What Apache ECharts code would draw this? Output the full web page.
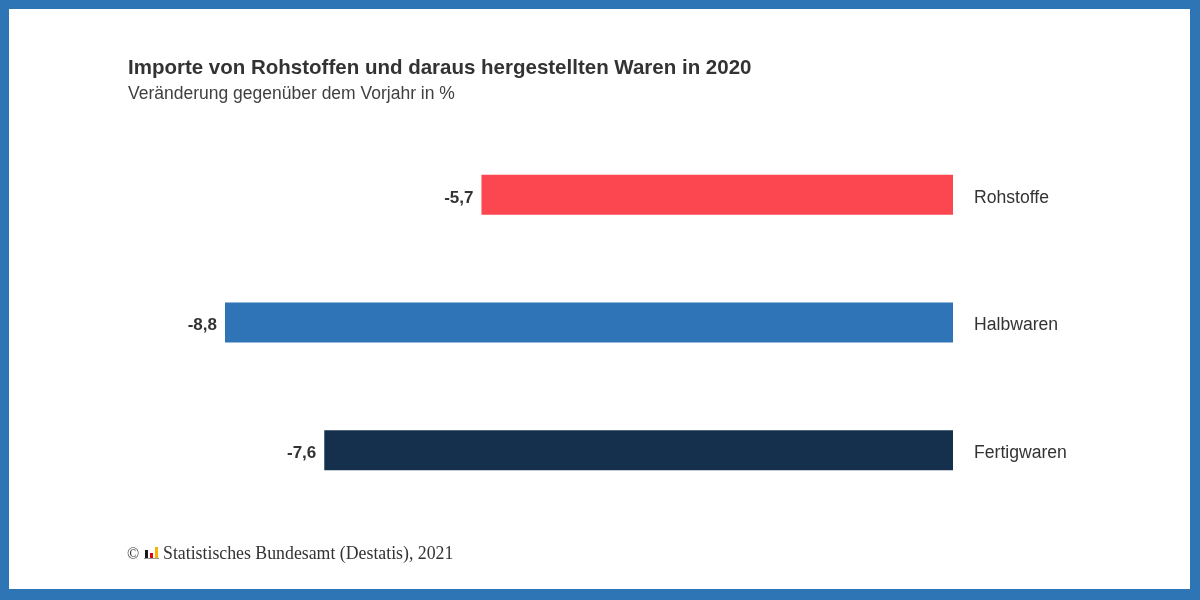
<!DOCTYPE html>
<html>
<head>
<meta charset="utf-8">
<script src="https://cdn.jsdelivr.net/npm/echarts@6/dist/echarts.min.js"></script>
<style>
  html, body { margin: 0; padding: 0; background: #2e75b6; }
  #chart { width: 1200px; height: 600px; }
</style>
</head>
<body>
<div id="chart"></div>
<script>
  const categories = ['Rohstoffe', 'Halbwaren', 'Fertigwaren'];
  const values = [-5.7, -8.8, -7.6];
  const barColors = ['#fc4751', '#2f74b7', '#15304d'];

  const myChart = echarts.init(document.getElementById('chart'));

  const option = {
    backgroundColor: '#2e75b6',
    animation: false,
    graphic: [
      // weisse Flaeche innerhalb des blauen Rahmens
      { type: 'rect', z: -10, shape: { x: 9, y: 9, width: 1181, height: 580 }, style: { fill: '#ffffff' } },
      // Destatis-Logo
      { type: 'text', left: 127, top: 547, style: { text: '©', font: '16px "Liberation Serif"', fill: '#333' } },
      { type: 'rect', shape: { x: 145, y: 550, width: 3, height: 8 }, style: { fill: '#1a1a1a' } },
      { type: 'rect', shape: { x: 150, y: 553, width: 3, height: 5 }, style: { fill: '#e2001a' } },
      { type: 'rect', shape: { x: 155, y: 547, width: 3, height: 11 }, style: { fill: '#f5b400' } },
      { type: 'rect', shape: { x: 144, y: 558, width: 15, height: 1 }, style: { fill: '#999' } },
      { type: 'text', left: 163, top: 545, style: { text: 'Statistisches Bundesamt (Destatis), 2021', font: '17.8px "Liberation Serif"', fill: '#333' } }
    ],
    title: {
      text: 'Importe von Rohstoffen und daraus hergestellten Waren in 2020',
      subtext: 'Veränderung gegenüber dem Vorjahr in %',
      left: 128,
      top: 58,
      padding: 0,
      itemGap: 6,
      textStyle: { fontFamily: 'Liberation Sans', fontSize: 20.5, fontWeight: 'bold', color: '#333' },
      subtextStyle: { fontFamily: 'Liberation Sans', fontSize: 17.5, color: '#404040' }
    },
    grid: { left: 225, right: 247, top: 131, bottom: 86, containLabel: false },
    xAxis: {
      type: 'value',
      min: -8.8,
      max: 0,
      show: false
    },
    yAxis: {
      type: 'category',
      data: categories,
      inverse: true,
      position: 'right',
      axisLine: { show: false },
      axisTick: { show: false },
      axisLabel: {
        margin: 21,
        verticalAlign: 'top',
        lineHeight: 18,
        padding: [-6, 0, 0, 0],
        fontFamily: 'Liberation Sans',
        fontSize: 17.6,
        color: '#333'
      }
    },
    series: [
      {
        type: 'bar',
        barWidth: 40,
        data: values.map((v, i) => ({ value: v, itemStyle: { color: barColors[i] } })),
        label: {
          show: true,
          position: 'left',
          distance: 8,
          offset: [0, 3],
          fontFamily: 'Liberation Sans',
          fontSize: 17,
          fontWeight: 'bold',
          color: '#333',
          formatter: p => String(p.value).replace('.', ',')
        }
      }
    ]
  };

  myChart.setOption(option);
</script>
</body>
</html>
